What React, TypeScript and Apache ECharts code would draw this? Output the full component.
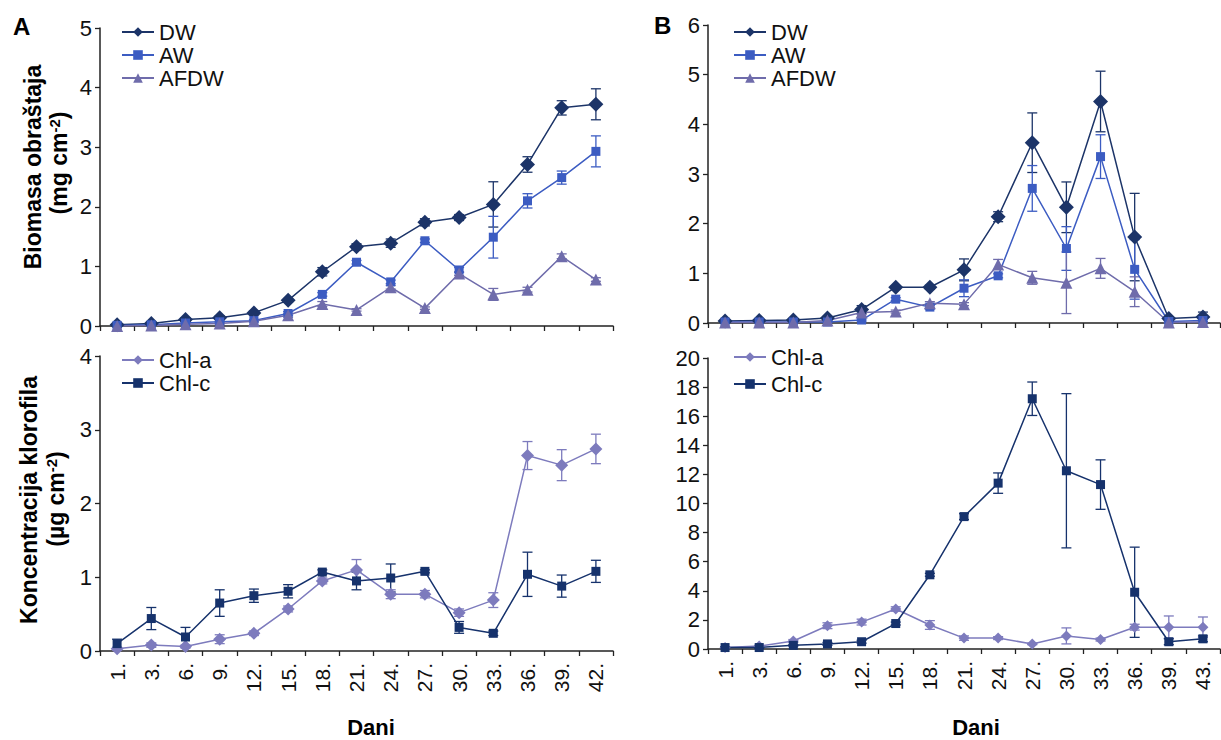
import React, { useEffect, useRef } from "react";
import * as echarts from "echarts";

const catsA = ["1.", "3.", "6.", "9.", "12.", "15.", "18.", "21.", "24.", "27.", "30.", "33.", "36.", "39.", "42."];
const catsB = ["1.", "3.", "6.", "9.", "12.", "15.", "18.", "21.", "24.", "27.", "30.", "33.", "36.", "39.", "43."];

// Panel A – biomass
const dwA = [0.02, 0.04, 0.11, 0.14, 0.22, 0.43, 0.91, 1.33, 1.39, 1.74, 1.82, 2.04, 2.71, 3.66, 3.72];
const dwAErr = [0.01, 0.02, 0.03, 0.03, 0.03, 0.03, 0.07, 0.05, 0.07, 0.06, 0.05, 0.38, 0.13, 0.12, 0.26];
const awA = [0.01, 0.02, 0.05, 0.07, 0.09, 0.21, 0.53, 1.07, 0.74, 1.43, 0.94, 1.49, 2.1, 2.49, 2.93];
const awAErr = [0.01, 0.01, 0.01, 0.01, 0.02, 0.03, 0.03, 0.03, 0.03, 0.03, 0.04, 0.35, 0.12, 0.11, 0.26];
const afdwA = [0.0, 0.01, 0.03, 0.04, 0.08, 0.18, 0.37, 0.27, 0.65, 0.3, 0.88, 0.53, 0.61, 1.17, 0.78];
const afdwAErr = [0.01, 0.01, 0.01, 0.01, 0.01, 0.03, 0.04, 0.02, 0.03, 0.02, 0.03, 0.1, 0.04, 0.04, 0.03];

// Panel A – chlorophyll
const chlaA = [0.03, 0.08, 0.06, 0.16, 0.24, 0.57, 0.95, 1.1, 0.77, 0.77, 0.52, 0.69, 2.65, 2.52, 2.74];
const chlaAErr = [0.02, 0.03, 0.02, 0.06, 0.03, 0.04, 0.04, 0.14, 0.06, 0.05, 0.05, 0.1, 0.19, 0.21, 0.2];
const chlcA = [0.1, 0.44, 0.19, 0.65, 0.75, 0.81, 1.07, 0.95, 0.99, 1.08, 0.32, 0.24, 1.04, 0.88, 1.08];
const chlcAErr = [0.06, 0.15, 0.13, 0.18, 0.09, 0.09, 0.03, 0.12, 0.19, 0.02, 0.08, 0.03, 0.3, 0.15, 0.15];

// Panel B – biomass
const dwB = [0.04, 0.05, 0.06, 0.1, 0.27, 0.72, 0.72, 1.07, 2.14, 3.63, 2.33, 4.46, 1.73, 0.09, 0.12];
const dwBErr = [0.02, 0.02, 0.02, 0.03, 0.08, 0.03, 0.04, 0.22, 0.1, 0.6, 0.51, 0.61, 0.88, 0.03, 0.1];
const awB = [0.02, 0.02, 0.02, 0.02, 0.06, 0.48, 0.32, 0.7, 0.95, 2.71, 1.5, 3.35, 1.08, 0.03, 0.05];
const awBErr = [0.01, 0.01, 0.01, 0.01, 0.02, 0.03, 0.04, 0.17, 0.04, 0.46, 0.44, 0.44, 0.6, 0.02, 0.02];
const afdwB = [0.01, 0.01, 0.01, 0.05, 0.21, 0.23, 0.4, 0.38, 1.18, 0.91, 0.81, 1.1, 0.63, 0.01, 0.02];
const afdwBErr = [0.01, 0.01, 0.01, 0.01, 0.04, 0.03, 0.03, 0.03, 0.1, 0.13, 0.62, 0.2, 0.3, 0.01, 0.01];

// Panel B – chlorophyll
const chlaB = [0.1, 0.2, 0.55, 1.6, 1.85, 2.75, 1.65, 0.75, 0.75, 0.35, 0.9, 0.65, 1.5, 1.5, 1.5];
const chlaBErr = [0.05, 0.05, 0.1, 0.2, 0.2, 0.15, 0.3, 0.15, 0.1, 0.05, 0.55, 0.1, 0.2, 0.77, 0.7];
const chlcB = [0.1, 0.1, 0.25, 0.35, 0.5, 1.75, 5.1, 9.1, 11.4, 17.2, 12.25, 11.3, 3.9, 0.5, 0.7];
const chlcBErr = [0.05, 0.05, 0.05, 0.1, 0.1, 0.1, 0.1, 0.2, 0.7, 1.15, 5.3, 1.7, 3.1, 0.2, 0.2];

const C_DW = "#1c3468";
const C_AW = "#3c5cc2";
const C_AFDW = "#6f6cab";
const C_CHLA = "#7d7bbd";
const C_CHLC = "#16326c";

const FONT = "'Liberation Sans', Arial, sans-serif";
const AXIS_COLOR = "#222";

function lineSeries(name: string, data: number[], color: string, symbol: string, size: number, idx: number) {
  return {
    type: "line",
    name,
    data,
    xAxisIndex: idx,
    yAxisIndex: idx,
    symbol,
    symbolSize: size,
    itemStyle: { color },
    lineStyle: { color, width: 1.5 },
    z: 3,
    silent: true,
  };
}

function errSeries(vals: number[], errs: number[], color: string, idx: number) {
  return {
    type: "custom",
    xAxisIndex: idx,
    yAxisIndex: idx,
    data: vals.map((v, i) => [i, v, errs[i]]),
    encode: { x: 0, y: 1 },
    silent: true,
    z: 2,
    renderItem: (params: any, api: any) => {
      const i = api.value(0);
      const v = api.value(1);
      const e = api.value(2);
      const top = api.coord([i, v + e]);
      const bot = api.coord([i, v - e]);
      const w = 5;
      const st = { stroke: color, lineWidth: 1.3 };
      return {
        type: "group",
        children: [
          { type: "line", shape: { x1: top[0], y1: top[1], x2: bot[0], y2: bot[1] }, style: st },
          { type: "line", shape: { x1: top[0] - w, y1: top[1], x2: top[0] + w, y2: top[1] }, style: st },
          { type: "line", shape: { x1: bot[0] - w, y1: bot[1], x2: bot[0] + w, y2: bot[1] }, style: st },
        ],
      };
    },
  };
}

function xAxis(cats: string[], grid: number, showLabels: boolean) {
  return {
    type: "category",
    gridIndex: grid,
    data: cats,
    boundaryGap: true,
    axisLine: { lineStyle: { color: AXIS_COLOR, width: 1.5 } },
    axisTick: { show: true, length: 5, lineStyle: { color: AXIS_COLOR, width: 1.3 } },
    axisLabel: {
      show: showLabels,
      rotate: 90,
      interval: 0,
      margin: 12,
      fontSize: 21,
      color: "#111",
      fontFamily: FONT,
    },
    splitLine: { show: false },
  };
}

function yAxis(grid: number, max: number, interval: number) {
  return {
    type: "value",
    gridIndex: grid,
    min: 0,
    max,
    interval,
    axisLine: { show: true, lineStyle: { color: AXIS_COLOR, width: 1.5 } },
    axisTick: { show: true, length: 5, lineStyle: { color: AXIS_COLOR, width: 1.3 } },
    axisLabel: { fontSize: 22, color: "#111", margin: 8, fontFamily: FONT },
    splitLine: { show: false },
  };
}

function legend(names: string[], left: number, top: number, gap: number) {
  return {
    data: names,
    orient: "vertical",
    left,
    top,
    itemWidth: 32,
    itemHeight: 12,
    itemGap: gap,
    selectedMode: false,
    textStyle: { fontSize: 22, color: "#111", fontFamily: FONT, lineHeight: 22, padding: [0, 0, 0, 0] },
  };
}

export default function App() {
  const ref = useRef<HTMLDivElement>(null);
  useEffect(() => {
    if (!ref.current) return;
    const chart = echarts.init(ref.current, null, { renderer: "svg" });
    const titleStyle = {
      fontSize: 23,
      fontWeight: "bold",
      fontFamily: FONT,
      fill: "#000",
      align: "center",
      verticalAlign: "middle",
    };
    const rich = {
      sup: { fontSize: 15, fontWeight: "bold", fontFamily: FONT, fill: "#000", verticalAlign: "top", padding: [0, 0, 10, 0] },
    };
    const option: any = {
      animation: false,
      backgroundColor: "#fff",
      grid: [
        { left: 100, width: 513, top: 28, height: 298 },
        { left: 100, width: 513, top: 356, height: 295 },
        { left: 708, width: 512, top: 25, height: 298 },
        { left: 708, width: 512, top: 358, height: 291 },
      ],
      xAxis: [xAxis(catsA, 0, false), xAxis(catsA, 1, true), xAxis(catsB, 2, false), xAxis(catsB, 3, true)],
      yAxis: [yAxis(0, 5, 1), yAxis(1, 4, 1), yAxis(2, 6, 1), yAxis(3, 20, 2)],
      legend: [
        legend(["DW", "AW", "AFDW"], 116, 16, 1),
        legend(["Chl-a", "Chl-c"], 116, 344, 1),
        legend(["DW", "AW", "AFDW"], 728, 16, 1),
        legend(["Chl-a", "Chl-c"], 728, 341, 5),
      ],
      series: [
        errSeries(dwA, dwAErr, C_DW, 0),
        errSeries(awA, awAErr, C_AW, 0),
        errSeries(afdwA, afdwAErr, C_AFDW, 0),
        lineSeries("DW", dwA, C_DW, "diamond", 15, 0),
        lineSeries("AW", awA, C_AW, "rect", 9, 0),
        lineSeries("AFDW", afdwA, C_AFDW, "triangle", 12, 0),

        errSeries(chlaA, chlaAErr, C_CHLA, 1),
        errSeries(chlcA, chlcAErr, C_CHLC, 1),
        lineSeries("Chl-a", chlaA, C_CHLA, "diamond", 13, 1),
        lineSeries("Chl-c", chlcA, C_CHLC, "rect", 9, 1),

        errSeries(dwB, dwBErr, C_DW, 2),
        errSeries(awB, awBErr, C_AW, 2),
        errSeries(afdwB, afdwBErr, C_AFDW, 2),
        lineSeries("DW", dwB, C_DW, "diamond", 15, 2),
        lineSeries("AW", awB, C_AW, "rect", 9, 2),
        lineSeries("AFDW", afdwB, C_AFDW, "triangle", 12, 2),

        errSeries(chlaB, chlaBErr, C_CHLA, 3),
        errSeries(chlcB, chlcBErr, C_CHLC, 3),
        lineSeries("Chl-a", chlaB, C_CHLA, "diamond", 11, 3),
        lineSeries("Chl-c", chlcB, C_CHLC, "rect", 9, 3),
      ],
      graphic: [
        { type: "text", left: 13, top: 14, style: { text: "A", fontSize: 24, fontWeight: "bold", fontFamily: FONT, fill: "#000" } },
        { type: "text", left: 654, top: 13, style: { text: "B", fontSize: 24, fontWeight: "bold", fontFamily: FONT, fill: "#000" } },
        { type: "text", x: 33, y: 167, rotation: Math.PI / 2, style: { ...titleStyle, text: "Biomasa obraštaja" } },
        { type: "text", x: 59, y: 163, rotation: Math.PI / 2, style: { ...titleStyle, text: "(mg cm{sup|-2})", rich } },
        { type: "text", x: 29, y: 500, rotation: Math.PI / 2, style: { ...titleStyle, text: "Koncentracija klorofila" } },
        { type: "text", x: 56, y: 499, rotation: Math.PI / 2, style: { ...titleStyle, text: "(µg cm{sup|-2})", rich } },
        { type: "text", x: 371, y: 727, style: { ...titleStyle, fontSize: 22, text: "Dani" } },
        { type: "text", x: 976, y: 727, style: { ...titleStyle, fontSize: 22, text: "Dani" } },
      ],
    };
    chart.setOption(option);
    return () => chart.dispose();
  }, []);
  return (
    <div
      ref={ref}
      style={{ position: "fixed", left: 0, top: 0, width: 1221, height: 740, background: "#fff" }}
    />
  );
}
